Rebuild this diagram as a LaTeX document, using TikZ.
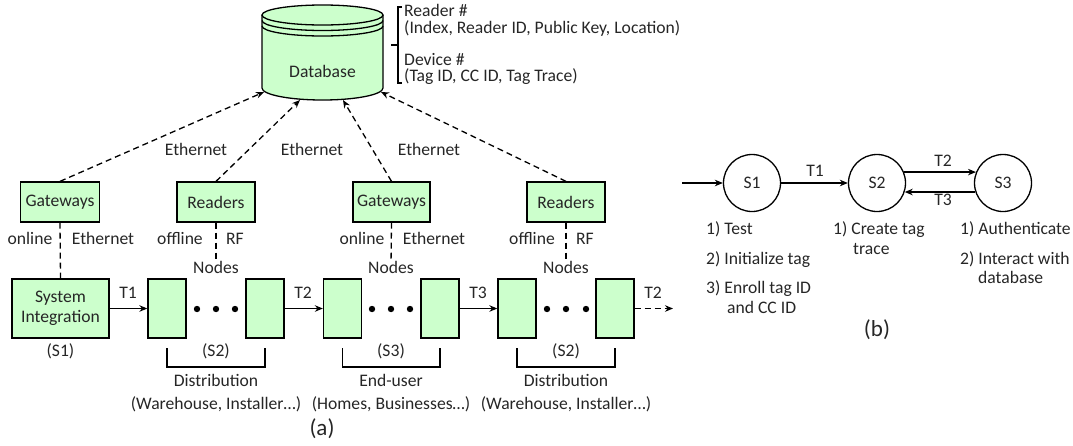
\documentclass[tikz,border=0pt]{standalone}
\usepackage{fontspec}
\setmainfont{Carlito}
\usetikzlibrary{arrows.meta}
\definecolor{boxgreen}{HTML}{CCFFCC}
\definecolor{ink}{HTML}{262626}
\begin{document}
\begin{tikzpicture}[x=1pt,y=-1pt,
  font=\fontsize{17.6}{20}\selectfont,
  lw/.style={line width=1.3pt},
  box/.style={draw, lw, fill=boxgreen, text=ink, inner sep=0pt, minimum height=40pt, align=center},
  slot/.style={box, minimum width=38pt, minimum height=59pt},
  lbl/.style={text=ink, inner sep=0pt, text height=0.72em, text depth=0.08em},
  big/.style={lbl, font=\fontsize{23}{26}\selectfont},
  state/.style={circle, draw, lw, text=ink, inner sep=0pt, minimum size=57pt},
  tip/.style={-{Stealth[length=8pt,width=6.5pt]}},
  conn/.style={lw, tip},
  dconn/.style={lw, tip, dash pattern=on 6pt off 4pt},
  dline/.style={lw, dash pattern=on 6pt off 4pt},
  dot/.style={circle, fill=black, inner sep=0pt, minimum size=6.4pt}]
\useasboundingbox (0,0) rectangle (1073,445);

% ---------- database cylinder ----------
\fill[boxgreen] (262,15) arc[start angle=180, end angle=0, x radius=60.5pt, y radius=10pt]
  -- (383,88) arc[start angle=0, end angle=-180, x radius=60.5pt, y radius=12pt] -- cycle;
\draw[lw] (322.5,15) ellipse [x radius=60.5pt, y radius=10pt];
\draw[lw] (262,20.5) arc[start angle=180, end angle=360, x radius=60.5pt, y radius=10pt];
\draw[lw] (262,26) arc[start angle=180, end angle=360, x radius=60.5pt, y radius=10pt];
\draw[lw] (262,15) -- (262,88) arc[start angle=180, end angle=360, x radius=60.5pt, y radius=12pt] -- (383,15);
\node[lbl] (db) at (322.5,74) {Database};
\coordinate (dbA) at (264,92);
\coordinate (dbB) at (300,100);
\coordinate (dbC) at (343,100);
\coordinate (dbD) at (381,92);

% record bracket
\draw[lw] (402,7) -- (398,7) -- (398,83) -- (402,83);
\draw[lw] (398,45) -- (391,45);
\node[lbl, anchor=west] (r1) at (404,13) {Reader \#};
\node[lbl, anchor=west] (r2) at (404,30) {(Index, Reader ID, Public Key, Location)};
\node[lbl, anchor=west] (r3) at (404,62) {Device \#};
\node[lbl, anchor=west] (r4) at (404,78) {(Tag ID, CC ID, Tag Trace)};

% ---------- access points ----------
\node[box, minimum width=79pt] (gw1) at (60,202) {Gateways};
\node[box, minimum width=78pt] (rd1) at (216,202) {Readers};
\node[box, minimum width=77pt] (gw2) at (391.5,202) {Gateways};
\node[box, minimum width=78pt] (rd2) at (566,202) {Readers};

\draw[dconn] (gw1.north) -- (dbA);
\draw[dconn] (rd1.north) -- (dbB);
\draw[dconn] (gw2.north) -- (dbC);
\draw[dconn] (rd2.north) -- (dbD);
\node[lbl] (e1) at (196,152) {Ethernet};
\node[lbl] (e2) at (312,152) {Ethernet};
\node[lbl] (e3) at (429,152) {Ethernet};

% ---------- life-cycle nodes ----------
\node[box, minimum width=97pt, minimum height=59pt] (si) at (60.5,308.5) {System\\Integration};
\node[slot] (n1) at (167,308.5) {};
\node[slot] (n2) at (265,308.5) {};
\node[slot] (n3) at (342.5,308.5) {};
\node[slot] (n4) at (440,308.5) {};
\node[slot] (n5) at (517,308.5) {};
\node[slot] (n6) at (615,308.5) {};
\coordinate (out) at (673,308.5);

\foreach \x [count=\i] in {197,216,235,372,391,410,547,566,586}
  \node[dot] (d\i) at (\x,309) {};

\draw[conn] (si.east) -- (n1.west);
\draw[conn] (n2.east) -- (n3.west);
\draw[conn] (n4.east) -- (n5.west);
\draw[dconn] (n6.east) -- (out);
\node[lbl] (t1) at (128,295) {T1};
\node[lbl] (t2) at (303,295) {T2};
\node[lbl] (t3) at (478,295) {T3};
\node[lbl] (t4) at (653,295) {T2};

% links between access points and nodes
\node[lbl] (k1) at (216,270) {Nodes};
\node[lbl] (k2) at (391,270) {Nodes};
\node[lbl] (k3) at (566,270) {Nodes};
\draw[dline] (gw1.south) -- (si.north);
\draw[dline, shorten >=4pt] (rd1.south) -- (k1.north);
\draw[dline, shorten >=4pt] (gw2.south) -- (k2.north);
\draw[dline, shorten >=4pt] (rd2.south) -- (k3.north);
\node[lbl] at (30,241) {online};
\node[lbl] at (103,241) {Ethernet};
\node[lbl] at (180,241) {offline};
\node[lbl] at (235,241) {RF};
\node[lbl] at (362,241) {online};
\node[lbl] at (434,241) {Ethernet};
\node[lbl] at (532,241) {offline};
\node[lbl] at (585,241) {RF};

% stage brackets
\draw[lw] (167,348) -- (167,367) -- (265,367) -- (265,348);
\draw[lw] (342.5,348) -- (342.5,367) -- (440,367) -- (440,348);
\draw[lw] (517,348) -- (517,367) -- (615,367) -- (615,348);
\node[lbl] at (60.5,353) {(S1)};
\node[lbl] at (216,353) {(S2)};
\node[lbl] at (391,353) {(S3)};
\node[lbl] at (566,353) {(S2)};
\node[lbl] at (216,383) {Distribution};
\node[lbl] at (391,383) {End-user};
\node[lbl] at (566,383) {Distribution};
\node[lbl] at (216,406) {(Warehouse, Installer\dots)};
\node[lbl] at (391,406) {(Homes, Businesses\dots)};
\node[lbl] at (566,406) {(Warehouse, Installer\dots)};
\node[big] at (322,432) {(a)};

% ---------- state machine ----------
\node[state] (S1) at (752,183) {S1};
\node[state] (S2) at (877,183) {S2};
\node[state] (S3) at (1003,183) {S3};
\coordinate (start) at (682,183);
\draw[conn] (start) -- (S1.west);
\draw[conn] (S1.east) -- (S2.west);
\draw[conn] (S2.22) -- (S3.158);
\draw[conn] (S3.198) -- (S2.342);
\node[lbl] at (815,173) {T1};
\node[lbl] at (943,163) {T2};
\node[lbl] at (943,202) {T3};

\node[lbl, anchor=west] at (706,231) {1) Test};
\node[lbl, anchor=west] at (706,261) {2) Initialize tag};
\node[lbl, anchor=west] at (706,290) {3) Enroll tag ID};
\node[lbl, anchor=west] at (727,310) {and CC ID};
\node[lbl, anchor=west] at (833,231) {1) Create tag};
\node[lbl, anchor=west] at (853,251) {trace};
\node[lbl, anchor=west] at (960,231) {1) Authenticate};
\node[lbl, anchor=west] at (960,261) {2) Interact with};
\node[lbl, anchor=west] at (978,280) {database};
\node[big] at (877,333) {(b)};
\end{tikzpicture}
\end{document}
